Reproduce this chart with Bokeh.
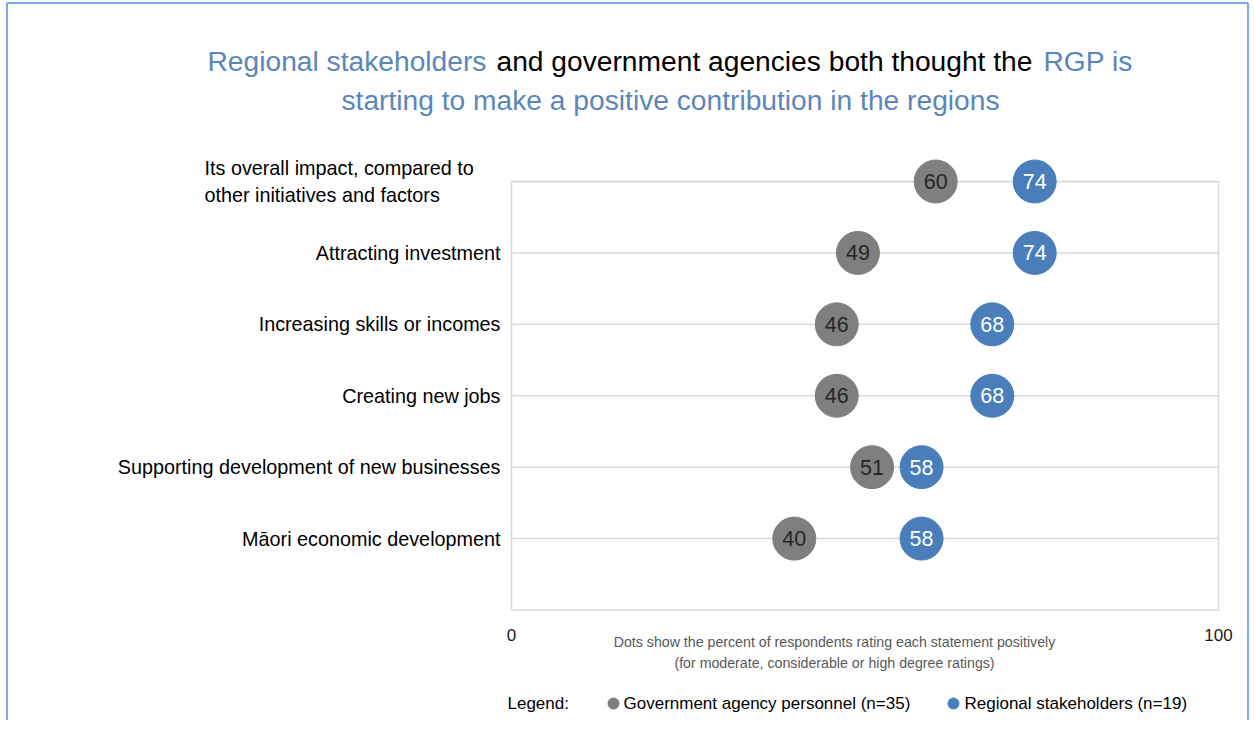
from bokeh.plotting import figure
from bokeh.models import Range1d
from bokeh.core.properties import value
from bokeh.embed import file_html
from bokeh.resources import INLINE

# ---------------- data ----------------
categories = [
    "Its overall impact, compared to\nother initiatives and factors",
    "Attracting investment",
    "Increasing skills or incomes",
    "Creating new jobs",
    "Supporting development of new businesses",
    "Māori economic development",
]
gov_values = [60, 49, 46, 46, 51, 40]
reg_values = [74, 74, 68, 68, 58, 58]
series_names = ["Government agency personnel (n=35)", "Regional stakeholders (n=19)"]
x_ticks = [0, 100]
title_line1 = ["Regional stakeholders", "and government agencies both thought the", "RGP is"]
title_line2 = "starting to make a positive contribution in the regions"
note_lines = ["Dots show the percent of respondents rating each statement positively",
              "(for moderate, considerable or high degree ratings)"]
legend_title = "Legend:"

# ---------------- styles ----------------
GRAY = "#7f7f7f"
BLUE = "#4a7ebb"
TITLE_BLUE = "#5b86b9"
GRID = "#d9d9d9"
FRAME_BLUE = "#7ba7ec"
FONT = value("Liberation Sans")

W, H = 1250, 720
# pixel geometry of the plotting box (x=0..100, y=0..N)
PX0, PX100 = 511, 1218
PY_TOP, PY_BOT = 181, 609.5
N = len(categories)
SX = (PX100 - PX0) / 100.0
SY = (PY_BOT - PY_TOP) / N

p = figure(width=W, height=H, output_backend="svg", toolbar_location=None,
           x_range=Range1d(-PX0 / SX, 100 + (W - PX100) / SX),
           y_range=Range1d(-(H - PY_BOT) / SY, N + PY_TOP / SY),
           x_axis_location=None, y_axis_location=None,
           min_border=0, background_fill_color="white", border_fill_color="white")
p.outline_line_color = None
p.grid.visible = False


def dx(px):
    return (px - PX0) / SX


def dy(py):
    return (PY_BOT - py) / SY


rows = list(range(N, 0, -1))

# outer blue frame (left, top, right)
p.segment(x0=[dx(6.5), dx(6.5), dx(1247.5)], y0=[dy(2.5), dy(2.5), dy(2.5)],
          x1=[dx(6.5), dx(1247.5), dx(1247.5)], y1=[dy(H), dy(2.5), dy(H)],
          line_color=FRAME_BLUE, line_width=2)

# plotting box and row lines
p.quad(left=[0], right=[100], bottom=[0], top=[N], fill_color=None,
       line_color=GRID, line_width=1.5)
p.segment(x0=[0] * N, x1=[100] * N, y0=rows, y1=rows, line_color=GRID, line_width=1.5)

# dots
p.scatter(gov_values, rows, size=43, color=GRAY)
p.scatter(reg_values, rows, size=43, color=BLUE)
p.text(gov_values, rows, text=[str(v) for v in gov_values], text_align="center",
       text_baseline="middle", text_font=FONT, text_font_size="21.5px",
       text_color="#262626")
p.text(reg_values, rows, text=[str(v) for v in reg_values], text_align="center",
       text_baseline="middle", text_font=FONT, text_font_size="21.5px",
       text_color="#ffffff")

# category labels
multi = [i for i, c in enumerate(categories) if "\n" in c]
single = [i for i, c in enumerate(categories) if "\n" not in c]
p.text([dx(500)] * len(single), [rows[i] for i in single],
       text=[categories[i] for i in single], text_align="right", text_baseline="middle",
       text_font=FONT, text_font_size="19.8px", text_color="#000000")
p.text([dx(204)] * len(multi), [rows[i] for i in multi],
       text=[categories[i] for i in multi], text_align="left", text_baseline="middle",
       text_font=FONT, text_font_size="19.8px", text_color="#000000",
       text_line_height=1.22)

# x tick labels
p.text(x_ticks, [dy(634)] * len(x_ticks), text=[str(t) for t in x_ticks],
       text_align="center", text_baseline="middle", text_font=FONT,
       text_font_size="17px", text_color="#1a1a1a")

# title
p.text([dx(207)], [dy(60)], text=[title_line1[0]], text_font=FONT,
       text_font_size="28.2px", text_color=TITLE_BLUE, text_baseline="alphabetic")
p.text([dx(496)], [dy(60)], text=[title_line1[1]], text_font=FONT,
       text_font_size="28.2px", text_color="#000000", text_baseline="alphabetic")
p.text([dx(1043)], [dy(60)], text=[title_line1[2]], text_font=FONT,
       text_font_size="28.2px", text_color=TITLE_BLUE, text_baseline="alphabetic")
p.text([dx(670)], [dy(99)], text=[title_line2], text_font=FONT, text_align="center",
       text_font_size="28.2px", text_color=TITLE_BLUE, text_baseline="alphabetic")

# note under axis
p.text([dx(834)] * 2, [dy(641), dy(662)], text=note_lines, text_font=FONT,
       text_align="center", text_baseline="middle", text_font_size="14.2px",
       text_color="#595959")

# legend
p.text([dx(507)], [dy(703)], text=[legend_title], text_font=FONT, text_baseline="middle",
       text_font_size="17px", text_color="#000000")
p.scatter([dx(613), dx(953)], [dy(703)] * 2, size=11, color=[GRAY, BLUE])
p.text([dx(623), dx(964)], [dy(703)] * 2, text=series_names, text_font=FONT,
       text_baseline="middle", text_font_size="17px", text_color="#000000")

open("out.html", "w").write(file_html(p, INLINE))
